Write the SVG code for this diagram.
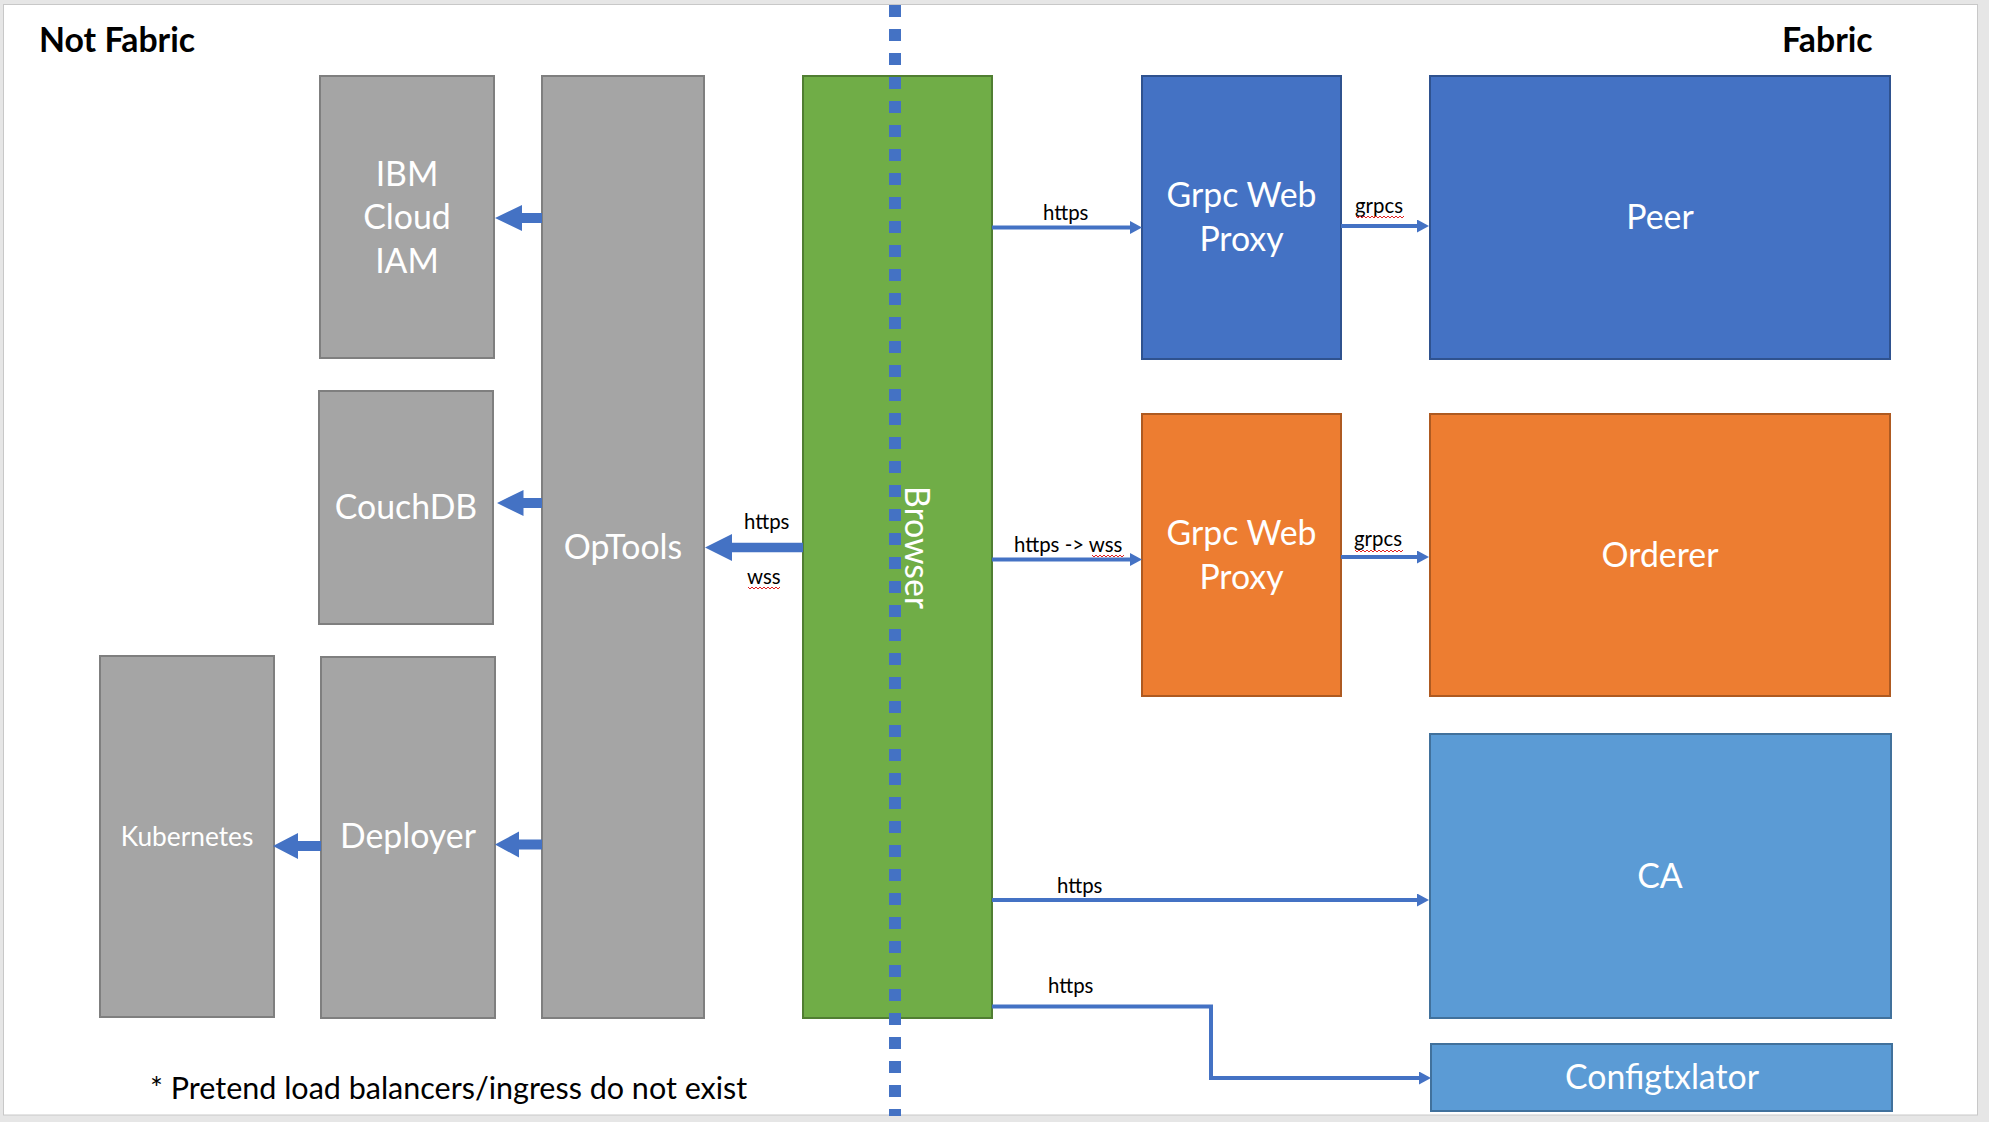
<svg xmlns="http://www.w3.org/2000/svg" width="1989" height="1122" viewBox="0 0 1989 1122">
  <style>
    .box { stroke-width: 2; }
    .gray { fill: #a5a5a5; stroke: #7f7f7f; }
    .green { fill: #70ad47; stroke: #507e32; }
    .blue { fill: #4472c4; stroke: #2f528f; }
    .orange { fill: #ed7d31; stroke: #ae5a21; }
    .lblue { fill: #5b9bd5; stroke: #41719c; }
    .t { font-family: Lato, "Liberation Sans", sans-serif; fill: #ffffff; font-size: 33.8px; text-anchor: middle; }
    .lbl { font-family: Lato, "Liberation Sans", sans-serif; fill: #000000; font-size: 20.4px; }
    .head { font-family: Lato, "Liberation Sans", sans-serif; fill: #000000; font-size: 33.8px; font-weight: bold; }
    .conn { fill: none; stroke: #4472c4; stroke-width: 4; marker-end: url(#ah); }
    .block { fill: #4472c4; stroke: none; }
    .squig { fill: none; stroke: #e02020; stroke-width: 1; }
  </style>
  <defs>
    <marker id="ah" markerUnits="userSpaceOnUse" markerWidth="12" markerHeight="13" refX="0" refY="6.5" orient="auto">
      <path d="M0,0 L12,6.5 L0,13 Z" fill="#4472c4"/>
    </marker>
  </defs>

  <rect x="0" y="0" width="1989" height="1122" fill="#e6e6e6"/>
  <rect x="3.5" y="4.5" width="1974" height="1110.5" fill="#ffffff" stroke="#c8c8c8" stroke-width="1"/>

  <text class="head" x="39" y="52">Not Fabric</text>
  <text class="head" x="1782" y="52">Fabric</text>

  <g id="ibm-cloud-iam">
    <rect class="box gray" x="320" y="76" width="174" height="282"/>
    <text class="t" x="407" y="186">IBM</text>
    <text class="t" x="407" y="229">Cloud</text>
    <text class="t" x="407" y="273">IAM</text>
  </g>
  <g id="couchdb">
    <rect class="box gray" x="319" y="391" width="174" height="233"/>
    <text class="t" x="406" y="519">CouchDB</text>
  </g>
  <g id="optools">
    <rect class="box gray" x="542" y="76" width="162" height="942"/>
    <text class="t" x="623" y="559">OpTools</text>
  </g>
  <g id="kubernetes">
    <rect class="box gray" x="100" y="656" width="174" height="361"/>
    <text class="t" x="187" y="846" style="font-size:26.3px">Kubernetes</text>
  </g>
  <g id="deployer">
    <rect class="box gray" x="321" y="657" width="174" height="361"/>
    <text class="t" x="408" y="848">Deployer</text>
  </g>
  <g id="browser">
    <rect class="box green" x="803" y="76" width="189" height="942"/>
  </g>

  <g id="divider">
    <line x1="895" y1="5" x2="895" y2="1116" stroke="#4472c4" stroke-width="12" stroke-dasharray="12 12"/>
  </g>
  <g id="browser-label">
    <text class="t" transform="translate(905,547.5) rotate(90)" x="0" y="0">Browser</text>
  </g>

  <g id="grpc-web-proxy-peer">
    <rect class="box blue" x="1142" y="76" width="199" height="283"/>
    <text class="t" x="1241.5" y="207">Grpc Web</text>
    <text class="t" x="1241.5" y="251">Proxy</text>
  </g>
  <g id="peer">
    <rect class="box blue" x="1430" y="76" width="460" height="283"/>
    <text class="t" x="1660" y="229">Peer</text>
  </g>
  <g id="grpc-web-proxy-orderer">
    <rect class="box orange" x="1142" y="414" width="199" height="282"/>
    <text class="t" x="1241.5" y="545">Grpc Web</text>
    <text class="t" x="1241.5" y="589">Proxy</text>
  </g>
  <g id="orderer">
    <rect class="box orange" x="1430" y="414" width="460" height="282"/>
    <text class="t" x="1660" y="567">Orderer</text>
  </g>
  <g id="ca">
    <rect class="box lblue" x="1430" y="734" width="461" height="284"/>
    <text class="t" x="1660" y="888">CA</text>
  </g>
  <g id="configtxlator">
    <rect class="box lblue" x="1431" y="1044" width="461" height="67"/>
    <text class="t" x="1662" y="1089">Configtxlator</text>
  </g>

  <g id="connectors">
    <path class="block" d="M495,218 L522,205 L522,213 L542,213 L542,223 L522,223 L522,231 Z"/>
    <path class="block" d="M497,503 L523.5,490 L523.5,498 L542,498 L542,508 L523.5,508 L523.5,516 Z"/>
    <path class="block" d="M273,846 L298,833 L298,841 L321,841 L321,851 L298,851 L298,859 Z"/>
    <path class="block" d="M495,844.5 L519,831.5 L519,839.5 L542,839.5 L542,849.5 L519,849.5 L519,857.5 Z"/>
    <path class="block" d="M705,547.5 L732,534 L732,542.7 L803,542.7 L803,552.3 L732,552.3 L732,561 Z"/>

    <path class="conn" d="M992,227.5 H1130"/>
    <path class="conn" d="M1341,226 H1417"/>
    <path class="conn" d="M992,559.5 H1130"/>
    <path class="conn" d="M1341,557 H1417"/>
    <path class="conn" d="M992,900 H1417"/>
    <path class="conn" d="M992,1006.5 H1211 V1078 H1419"/>

    <text class="lbl" x="1043" y="220">https</text>
    <text class="lbl" x="1355" y="213">grpcs</text>
    <text class="lbl" x="744" y="529">https</text>
    <text class="lbl" x="747" y="584">wss</text>
    <text class="lbl" x="1014" y="552">https -&gt; wss</text>
    <text class="lbl" x="1354" y="546">grpcs</text>
    <text class="lbl" x="1057" y="893">https</text>
    <text class="lbl" x="1048" y="993">https</text>

    <path class="squig" d="M1356,216 l2,2 l2,-2 l2,2 l2,-2 l2,2 l2,-2 l2,2 l2,-2 l2,2 l2,-2 l2,2 l2,-2 l2,2 l2,-2 l2,2 l2,-2 l2,2 l2,-2 l2,2 l2,-2 l2,2 l2,-2 l2,2 l2,-2"/>
    <path class="squig" d="M1355,550 l2,2 l2,-2 l2,2 l2,-2 l2,2 l2,-2 l2,2 l2,-2 l2,2 l2,-2 l2,2 l2,-2 l2,2 l2,-2 l2,2 l2,-2 l2,2 l2,-2 l2,2 l2,-2 l2,2 l2,-2 l2,2 l2,-2"/>
    <path class="squig" d="M748,587 l2,2 l2,-2 l2,2 l2,-2 l2,2 l2,-2 l2,2 l2,-2 l2,2 l2,-2 l2,2 l2,-2 l2,2 l2,-2 l2,2 l2,-2"/>
    <path class="squig" d="M1092,555 l2,2 l2,-2 l2,2 l2,-2 l2,2 l2,-2 l2,2 l2,-2 l2,2 l2,-2 l2,2 l2,-2 l2,2 l2,-2 l2,2 l2,-2"/>
  </g>

  <text class="lbl" x="150" y="1099" style="font-size:30.5px">* Pretend load balancers/ingress do not exist</text>
</svg>
